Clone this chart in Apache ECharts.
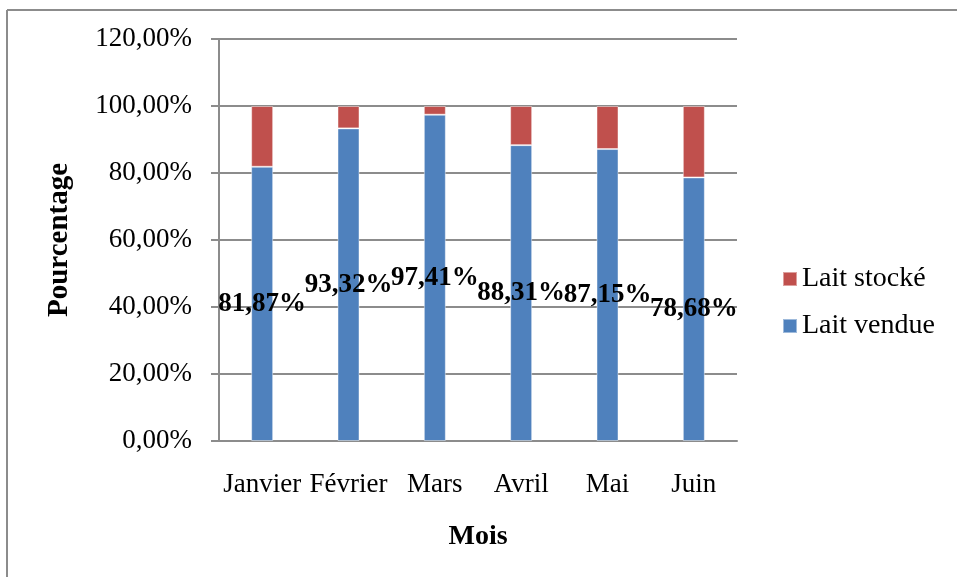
<!DOCTYPE html>
<html>
<head>
<meta charset="utf-8">
<script src="https://cdn.jsdelivr.net/npm/echarts@6/dist/echarts.min.js"></script>
<style>
  html, body { margin: 0; padding: 0; background: #fff; }
  #chart { width: 957px; height: 577px; }
</style>
</head>
<body>
<div id="chart"></div>
<script>
// Monthly milk figures, in percent of production
const months = ['Janvier', 'Février', 'Mars', 'Avril', 'Mai', 'Juin'];
const laitVendue = [81.87, 93.32, 97.41, 88.31, 87.15, 78.68];
const laitStocke = [18.13, 6.68, 2.59, 11.69, 12.85, 21.32];
const yTicks = [0, 20, 40, 60, 80, 100, 120];

const serif = '"Liberation Serif", "Times New Roman", serif';
const fmtPct = v => v.toFixed(2).replace('.', ',') + '%';

const chart = echarts.init(document.getElementById('chart'), null, { renderer: 'canvas' });

chart.setOption({
  animation: false,
  backgroundColor: '#ffffff',
  textStyle: { fontFamily: serif },
  graphic: [
    { type: 'line', shape: { x1: 7, y1: 10, x2: 957, y2: 10 }, style: { stroke: '#8c8c8c', lineWidth: 2 } },
    { type: 'line', shape: { x1: 7, y1: 10, x2: 7, y2: 577 }, style: { stroke: '#8c8c8c', lineWidth: 2 } }
  ],
  grid: { left: 219, right: 220, top: 39, bottom: 136, containLabel: false },
  legend: {
    orient: 'vertical',
    left: 777,
    top: 260,
    itemWidth: 14,
    itemHeight: 14,
    itemGap: 19,
    icon: 'rect',
    data: ['Lait stocké', 'Lait vendue'],
    textStyle: { fontFamily: serif, fontSize: 28, color: '#000' }
  },
  xAxis: {
    type: 'category',
    data: months,
    name: 'Mois',
    nameLocation: 'middle',
    nameGap: 82,
    nameTextStyle: { fontFamily: serif, fontSize: 28, fontWeight: 'bold', color: '#000' },
    axisLine: { show: true, lineStyle: { color: '#8c8c8c', width: 2 } },
    axisTick: { show: false },
    axisLabel: { fontFamily: serif, fontSize: 27, color: '#000', margin: 30, interval: 0 }
  },
  yAxis: {
    type: 'value',
    min: yTicks[0],
    max: yTicks[yTicks.length - 1],
    interval: 20,
    name: 'Pourcentage',
    nameLocation: 'middle',
    nameGap: 145,
    nameRotate: 90,
    nameTextStyle: { fontFamily: serif, fontSize: 29, fontWeight: 'bold', color: '#000' },
    axisLine: { show: true, lineStyle: { color: '#8c8c8c', width: 2 } },
    axisTick: { show: true, length: 8, lineStyle: { color: '#8c8c8c', width: 2 } },
    axisLabel: { fontFamily: serif, fontSize: 27, color: '#000', margin: 27, formatter: v => fmtPct(v) },
    splitLine: { show: true, lineStyle: { color: '#8c8c8c', width: 2 } }
  },
  series: [
    {
      name: 'Lait vendue',
      type: 'bar',
      stack: 'total',
      barWidth: 22,
      data: laitVendue,
      itemStyle: { color: '#4f81bd', borderColor: 'rgba(255,255,255,0.45)', borderWidth: 1 },
      label: {
        show: true,
        position: 'inside',
        formatter: p => fmtPct(p.value),
        fontFamily: serif,
        fontSize: 27,
        fontWeight: 'bold',
        color: '#000'
      },
      labelLayout: { hideOverlap: false }
    },
    {
      name: 'Lait stocké',
      type: 'bar',
      stack: 'total',
      barWidth: 22,
      data: laitStocke,
      itemStyle: { color: '#c0504d', borderColor: 'rgba(255,255,255,0.45)', borderWidth: 1 }
    }
  ]
});
</script>
</body>
</html>
